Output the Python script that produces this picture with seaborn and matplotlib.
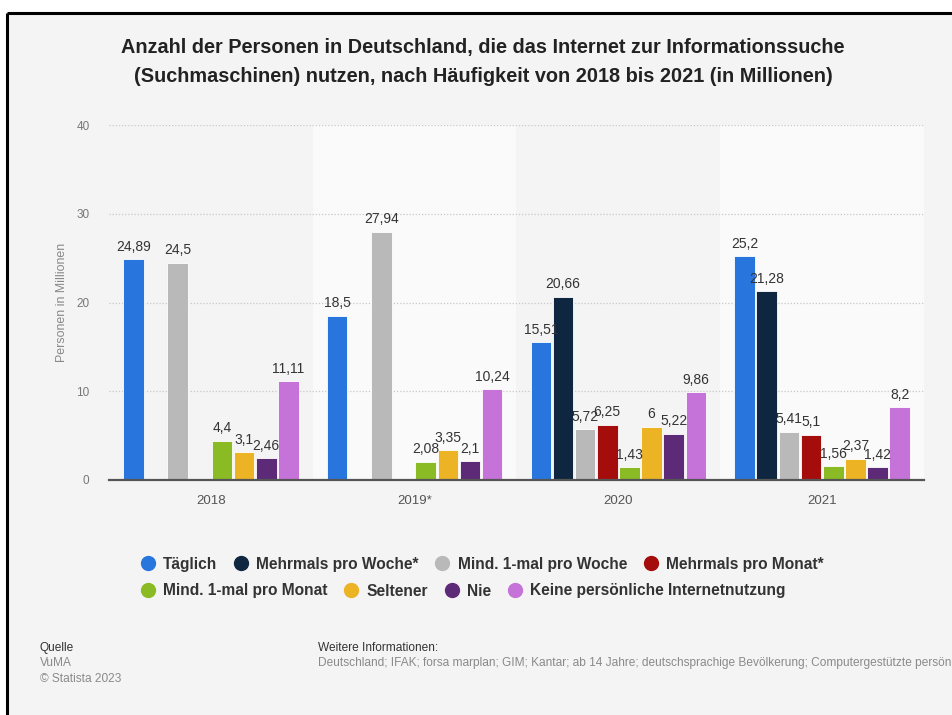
import numpy as np
import pandas as pd
import matplotlib
matplotlib.use("Agg")
import matplotlib.pyplot as plt
from matplotlib import font_manager
from matplotlib.lines import Line2D
from matplotlib.patches import Rectangle
import seaborn as sns

# ---------------- data ----------------
years = ["2018", "2019*", "2020", "2021"]
categories = ["Täglich", "Mehrmals pro Woche*", "Mind. 1-mal pro Woche",
              "Mehrmals pro Monat*", "Mind. 1-mal pro Monat", "Seltener",
              "Nie", "Keine persönliche Internetnutzung"]
taeglich = [24.89, 18.5, 15.51, 25.2]
mehrmals_woche = [np.nan, np.nan, 20.66, 21.28]
mind_woche = [24.5, 27.94, 5.72, 5.41]
mehrmals_monat = [np.nan, np.nan, 6.25, 5.1]
mind_monat = [4.4, 2.08, 1.43, 1.56]
seltener = [3.1, 3.35, 6, 2.37]
nie = [2.46, 2.1, 5.22, 1.42]
keine = [11.11, 10.24, 9.86, 8.2]
series = [taeglich, mehrmals_woche, mind_woche, mehrmals_monat,
          mind_monat, seltener, nie, keine]
colors = ["#2876dd", "#0f2640", "#b9b9b9", "#a50c0c",
          "#8abb24", "#ecb324", "#5d2a77", "#c572d9"]
y_ticks = [0, 10, 20, 30, 40]

rows = []
for cat, vals in zip(categories, series):
    for yr, v in zip(years, vals):
        if not np.isnan(v):
            rows.append({"Jahr": yr, "Kategorie": cat, "Wert": v})
df = pd.DataFrame(rows)

# ---------------- fonts ----------------
names = {f.name for f in font_manager.fontManager.ttflist}
narrow = "Liberation Sans Narrow" if "Liberation Sans Narrow" in names else "Liberation Sans"
base = "Liberation Sans"
plt.rcParams["font.family"] = [base, "DejaVu Sans"]

W, H = 953, 715
fig = plt.figure(figsize=(W / 100, H / 100), dpi=100, facecolor="white")

# frame / background
fig.patches.append(Rectangle((8 / W, 0), 1 - 8 / W, 1 - 13 / H, transform=fig.transFigure,
                             facecolor="#f4f4f4", edgecolor="none", zorder=-5))
fig.add_artist(Line2D([7 / W, 1], [1 - 13 / H, 1 - 13 / H], transform=fig.transFigure,
                      color="black", lw=2.2, solid_capstyle="butt", zorder=-4))
fig.add_artist(Line2D([7 / W, 7 / W], [0, 1 - 13 / H], transform=fig.transFigure,
                      color="black", lw=2.2, solid_capstyle="butt", zorder=-4))

ax = fig.add_axes([109 / W, 1 - 480 / H, (924 - 109) / W, (480 - 125) / H])
ax.set_facecolor("#f4f4f4")

sns.barplot(data=df, x="Jahr", y="Wert", hue="Kategorie", order=years,
            hue_order=categories, palette=colors, saturation=1, width=0.87, gap=0.07,
            edgecolor="#ffffff", linewidth=0.6, errorbar=None, ax=ax, zorder=3)

for cont in ax.containers:
    labels = [("%g" % b.get_height()).replace(".", ",") for b in cont]
    ax.bar_label(cont, labels=labels, padding=4, fontsize=10, color="#333333",
                 zorder=5)

ax.set_xlim(-0.5, len(years) - 0.5)
ax.set_ylim(0, 40)
for i in (1, 3):
    ax.axvspan(i - 0.5, i + 0.5, color="#fafafa", zorder=0.5, lw=0)

ax.set_yticks(y_ticks)
ax.set_yticklabels([str(t) for t in y_ticks])
for t in y_ticks[1:]:
    ax.axhline(t, color="#c8c8c8", lw=0.9, ls=(0, (1, 1.5)), zorder=1)
ax.tick_params(axis="y", length=0, pad=14, labelsize=8.5, labelcolor="#777777")
ax.tick_params(axis="x", length=0, pad=11, labelsize=9.5, labelcolor="#555555")
for s in ("top", "right", "left"):
    ax.spines[s].set_visible(False)
ax.spines["bottom"].set_color("#555555")
ax.spines["bottom"].set_linewidth(1.6)
ax.spines["bottom"].set_zorder(6)
ax.set_xlabel("")
ax.set_ylabel("Personen in Millionen", fontsize=8.9, color="#888888", labelpad=6)
ax.get_legend().remove()

# title
title_kw = dict(ha="center", va="center", fontsize=14.3, fontweight="bold",
                color="#222222", family=[narrow, "DejaVu Sans"])
fig.text(483 / W, 1 - 47 / H,
         "Anzahl der Personen in Deutschland, die das Internet zur Informationssuche",
         **title_kw)
fig.text(483 / W, 1 - 77 / H,
         "(Suchmaschinen) nutzen, nach Häufigkeit von 2018 bis 2021 (in Millionen)",
         **title_kw)

# legend (two flowing rows)
def handles_for(idx):
    return [Line2D([], [], ls="none", marker="o", markersize=10,
                   markerfacecolor=colors[i], markeredgecolor=colors[i]) for i in idx]

for idx, yy in (([0, 1, 2, 3], 564), ([4, 5, 6, 7], 591)):
    leg = fig.legend(handles_for(idx), [categories[i] for i in idx],
                     loc="center left", bbox_to_anchor=(140 / W, 1 - yy / H),
                     ncol=4, frameon=False, handlelength=1.0, handletextpad=0.5,
                     columnspacing=1.0, borderpad=0, borderaxespad=0,
                     prop={"family": [narrow, "DejaVu Sans"], "size": 11.2, "weight": "bold"})
    for t in leg.get_texts():
        t.set_color("#333333")

# footer
foot = dict(family=[narrow, "DejaVu Sans"], fontsize=8.6, va="center")
fig.text(40 / W, 1 - 648 / H, "Quelle", color="#333333", **foot)
fig.text(40 / W, 1 - 663 / H, "VuMA", color="#8a8a8a", **foot)
fig.text(40 / W, 1 - 679 / H, "© Statista 2023", color="#8a8a8a", **foot)
fig.text(318 / W, 1 - 648 / H, "Weitere Informationen:", color="#333333", **foot)
fig.text(318 / W, 1 - 663 / H,
         "Deutschland; IFAK; forsa marplan; GIM; Kantar; ab 14 Jahre; deutschsprachige Bevölkerung; Computergestützte persön",
         color="#8a8a8a", **foot)

fig.savefig("out.png", dpi=100, facecolor=fig.get_facecolor())
